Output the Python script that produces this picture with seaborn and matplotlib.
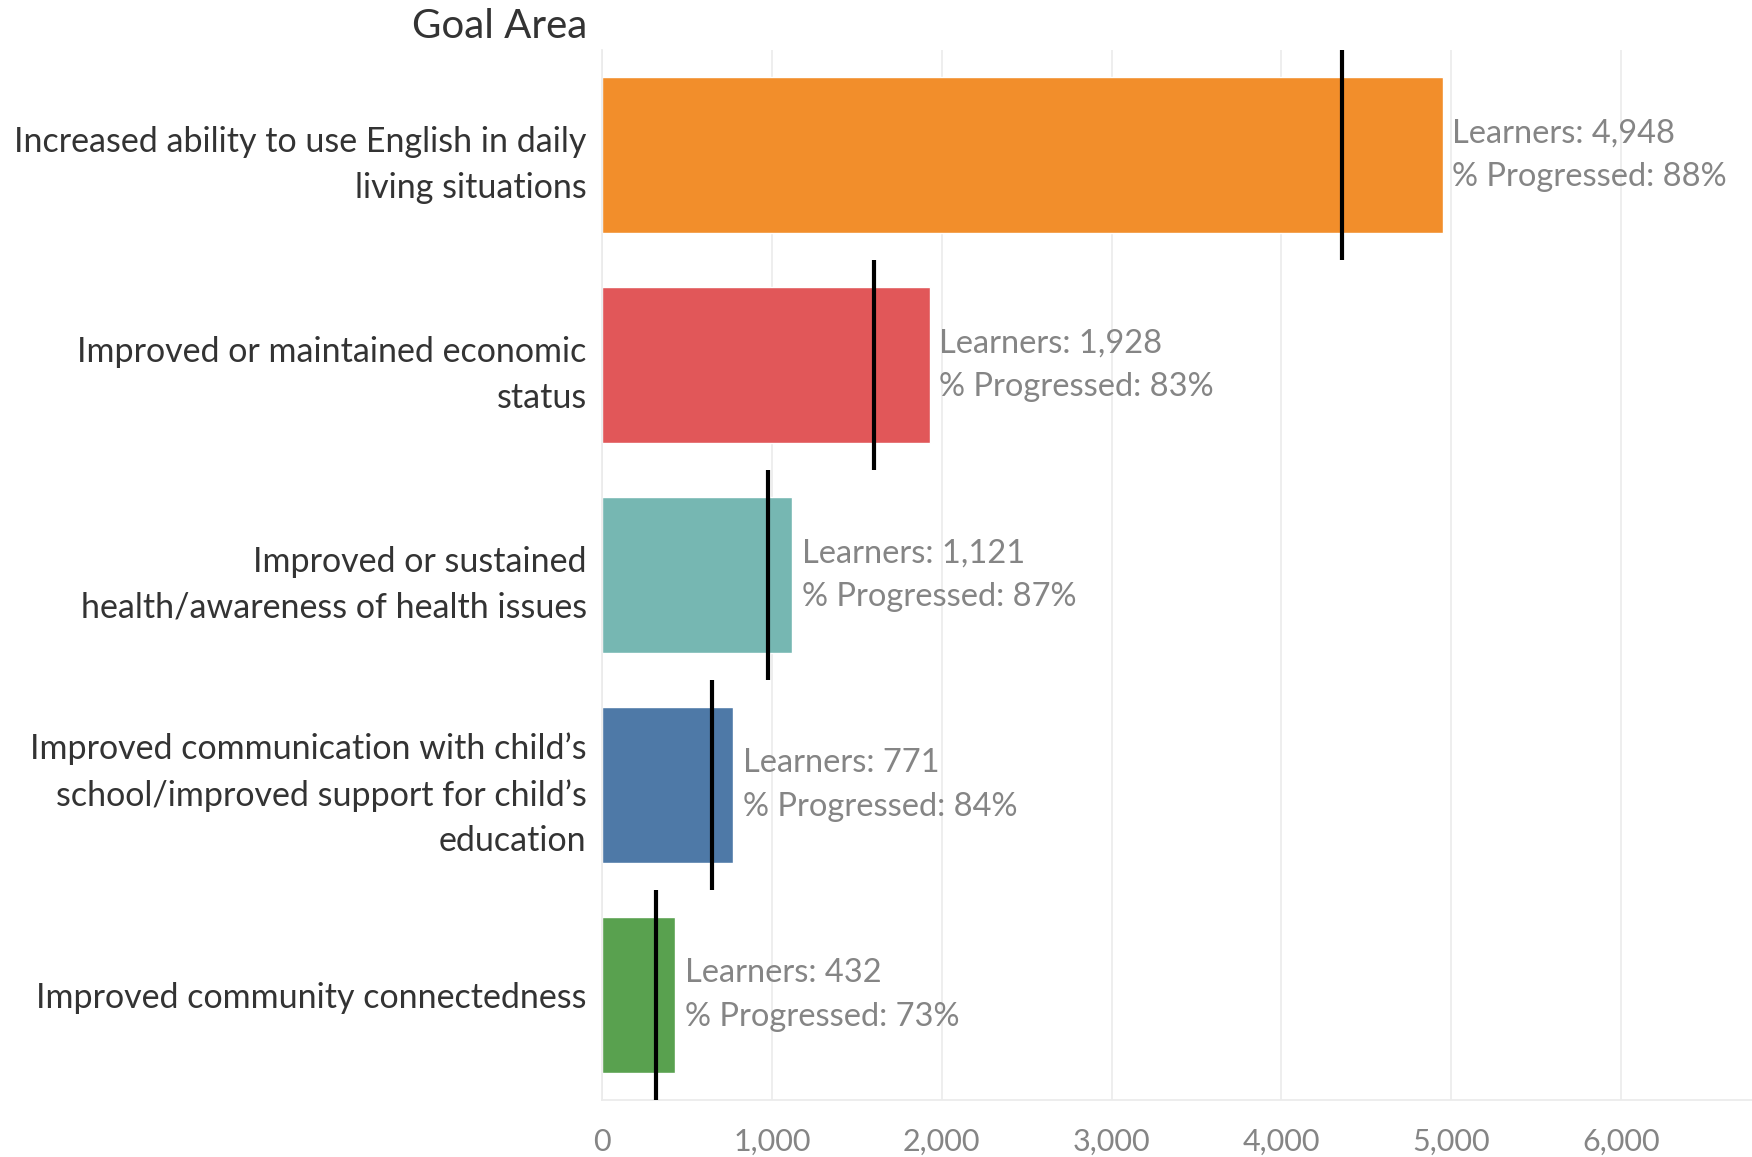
import matplotlib
matplotlib.use("Agg")
import matplotlib.pyplot as plt
import seaborn as sns
import pandas as pd
import numpy as np

categories = [
    "Increased ability to use English in daily\nliving situations",
    "Improved or maintained economic\nstatus",
    "Improved or sustained\nhealth/awareness of health issues",
    "Improved communication with child\u2019s\nschool/improved support for child\u2019s\neducation",
    "Improved community connectedness",
]
learners = [4948, 1928, 1121, 771, 432]
pct_progressed = [88, 83, 87, 84, 73]
colors = ["#F28E2B", "#E15759", "#76B7B2", "#4E79A7", "#59A14F"]
x_ticks = [0, 1000, 2000, 3000, 4000, 5000, 6000]

df = pd.DataFrame({"Goal": categories, "Learners": learners, "Pct": pct_progressed})
df["Progressed"] = df["Learners"] * df["Pct"] / 100.0

sns.set_theme(style="white")
plt.rcParams["font.family"] = ["Lato", "DejaVu Sans"]

fig = plt.figure(figsize=(17.52, 11.57), dpi=100)
ax = fig.add_axes([602 / 1752, 1 - 1100 / 1157, (1752 - 602) / 1752, (1100 - 50) / 1157])

sns.barplot(data=df, y="Goal", x="Learners", hue="Goal", palette=colors,
            order=categories, hue_order=categories, width=0.74,
            dodge=False, legend=False, ax=ax, saturation=1)

for i, row in df.iterrows():
    ax.vlines(row["Progressed"], i - 0.5, i + 0.5, color="black", lw=3, zorder=5)
    ax.annotate(f"Learners: {row['Learners']:,}\n% Progressed: {row['Pct']}%",
                xy=(row["Learners"], i), xytext=(7, 0), textcoords="offset points",
                ha="left", va="center", fontsize=23.5, color="#858585", linespacing=1.58)

ax.set_xlim(0, 6770)
ax.set_ylim(4.5, -0.5)
ax.set_xticks(x_ticks)
ax.set_xticklabels([f"{t:,}" for t in x_ticks], fontsize=22, color="#858585")
ax.tick_params(axis="x", length=0, pad=20)
ax.tick_params(axis="y", length=0, pad=11)
ax.set_yticks(range(len(categories)))
ax.set_yticklabels(categories, fontsize=24.5, color="#333333", linespacing=1.52)
ax.xaxis.grid(True, color="#ebebeb", lw=1.2)
ax.set_axisbelow(True)
ax.set_xlabel("")
ax.set_ylabel("")
for s in ["top", "right"]:
    ax.spines[s].set_visible(False)
ax.spines["left"].set_color("#ebebeb")
ax.spines["bottom"].set_color("#ebebeb")

fig.text(587 / 1752, 1 - 26 / 1157, "Goal Area", ha="right", va="center",
         fontsize=29, color="#333333")

fig.savefig("out.png", dpi=100)
